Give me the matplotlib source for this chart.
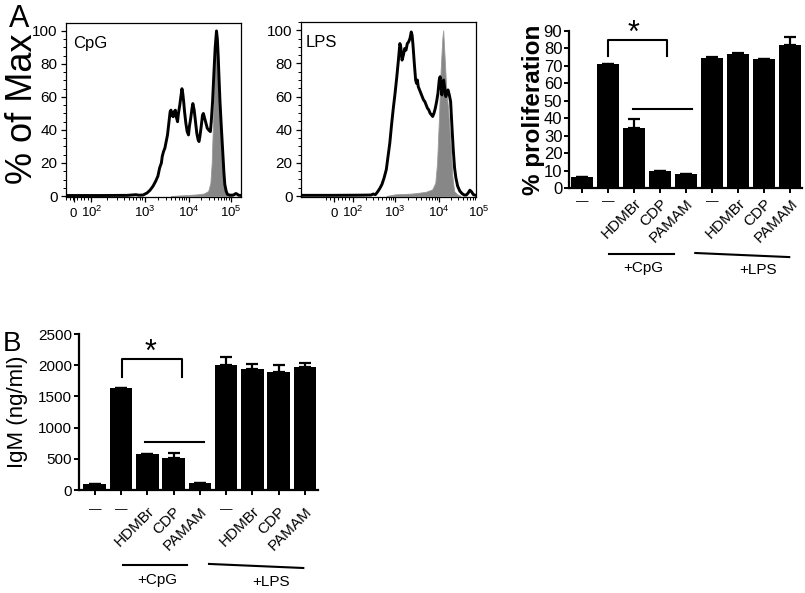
"""Proliferation histograms and bar charts for CpG / LPS stimulated B cells."""

import matplotlib

matplotlib.use("Agg")
import matplotlib.pyplot as plt
import numpy as np
from matplotlib.ticker import FixedLocator, MultipleLocator

# ---- histogram data (x in display decades, y in % of max) ----
CPG_X = [1.20, 2.00, 2.60, 2.80, 2.86, 2.96, 3.05, 3.12, 3.19, 3.25, 3.30, 3.34, 3.38, 3.40,
         3.43, 3.46, 3.49, 3.52, 3.55, 3.58, 3.60, 3.62, 3.65, 3.67, 3.70, 3.72, 3.75, 3.77,
         3.80, 3.83, 3.85, 3.87, 3.89, 3.91, 3.94, 3.97, 4.00, 4.02, 4.05, 4.08, 4.10, 4.13,
         4.16, 4.19, 4.22, 4.24, 4.26, 4.29, 4.32, 4.34, 4.37, 4.40, 4.43, 4.46, 4.50, 4.52,
         4.55, 4.58, 4.61, 4.64, 4.66, 4.68, 4.70, 4.72, 4.75, 4.78, 4.81, 4.83, 4.86, 4.89,
         4.95, 5.03, 5.08, 5.11, 5.14, 5.18]
CPG_Y = [0.3, 0.3, 0.4, 0.8, 0.5, 0.6, 1.8, 3.5, 6, 9, 12, 17, 20, 24,
         27, 29, 33, 37, 44, 51, 52, 49, 48, 51, 52, 48, 45, 50,
         55, 61, 65, 62, 57, 51, 44, 39, 37, 42, 47, 53, 56, 52,
         45, 38, 34, 33, 36, 42, 49, 50, 47, 44, 41, 40, 39, 45,
         57, 74, 90, 100, 95, 84, 70, 57, 42, 28, 14, 7, 3, 1,
         0.5, 0.6, 1.5, 1.2, 0.5, 0.4]
CPG_CTRL_X = [3.60, 3.90, 4.20, 4.35, 4.45, 4.50, 4.53, 4.56, 4.59, 4.62, 4.64, 4.67, 4.70,
              4.74, 4.78, 4.82, 4.86, 4.92, 5.00]
CPG_CTRL_Y = [0, 0.5, 1, 1.5, 3, 8, 20, 45, 75, 95, 100, 88, 65, 40, 20, 7, 2, 0.5, 0]

LPS_X = [0.85, 1.50, 2.20, 2.45, 2.50, 2.55, 2.60, 2.65, 2.70, 2.75, 2.80, 2.84, 2.88, 2.92,
         2.96, 3.00, 3.04, 3.08, 3.11, 3.13, 3.16, 3.19, 3.22, 3.25, 3.28, 3.31, 3.34, 3.37,
         3.39, 3.41, 3.44, 3.47, 3.49, 3.51, 3.53, 3.56, 3.59, 3.62, 3.65, 3.68, 3.71, 3.74,
         3.77, 3.80, 3.83, 3.86, 3.89, 3.92, 3.95, 3.98, 4.01, 4.03, 4.05, 4.07, 4.09, 4.11,
         4.13, 4.16, 4.18, 4.21, 4.24, 4.27, 4.30, 4.33, 4.36, 4.39, 4.43, 4.48, 4.53, 4.58,
         4.63, 4.67, 4.71, 4.75, 4.79, 4.85]
LPS_Y = [0.4, 0.4, 0.5, 0.6, 1.2, 0.8, 2.5, 4.5, 7, 11, 16, 24, 32, 43,
         53, 62, 72, 83, 92, 90, 82, 85, 89, 88, 92, 93, 95, 99,
         97, 91, 80, 70, 68, 70, 66, 64, 62, 60, 58, 57, 55, 53,
         52, 50, 49, 48, 50, 53, 57, 62, 70, 72, 66, 61, 65, 70,
         66, 60, 62, 64, 61, 57, 42, 28, 17, 11, 6, 3, 1.5, 0.6,
         0.6, 1.8, 3.5, 2.5, 0.8, 0.4]
LPS_CTRL_X = [2.80, 3.00, 3.40, 3.70, 3.85, 3.92, 3.96, 4.00, 4.04, 4.08, 4.10, 4.13, 4.17,
              4.22, 4.27, 4.31, 4.35, 4.42, 4.50]
LPS_CTRL_Y = [0, 1, 1.5, 2.5, 4, 8, 20, 45, 75, 95, 100, 85, 65, 50, 30, 12, 3, 1, 0]

CPG_TICKS = [1.38, 1.78, 3.0, 4.0, 4.96]
LPS_TICKS = [1.61, 2.04, 3.0, 4.0, 4.92]
HIST_TICK_LABELS = ["$0$", "$10^2$", "$10^3$", "$10^4$", "$10^5$"]

# ---- bar data ----
BAR_LABELS = ["\u2014", "\u2014", "HDMBr", "CDP", "PAMAM", "\u2014", "HDMBr", "CDP", "PAMAM"]
PROLIF = [6.5, 71, 34.5, 10, 8, 74.3, 77, 74.1, 82]
PROLIF_ERR = [0, 0.3, 5, 0, 0, 0.6, 0.5, 0, 4.4]
IGM = [100, 1640, 580, 515, 110, 2010, 1935, 1895, 1970]
IGM_ERR = [0, 0, 0, 75, 0, 125, 80, 115, 65]

FS = 11


def configure():
    plt.rcParams.update({
        "font.family": ["Liberation Sans", "DejaVu Sans"],
        "font.size": FS,
        "mathtext.fontset": "custom",
        "mathtext.rm": "Liberation Sans",
        "mathtext.it": "Liberation Sans:italic",
        "mathtext.bf": "Liberation Sans:bold",
        "axes.linewidth": 1.0,
        "xtick.direction": "out",
        "ytick.direction": "out",
    })


def minor_positions(zero_pos, hundred_pos, top_pos):
    pos = list(np.linspace(zero_pos - 0.18, hundred_pos, 8))
    span = 3.0 - hundred_pos
    for k in range(2, 10):
        pos.append(hundred_pos + span * np.log10(k))
        pos.append(3.0 + np.log10(k))
        pos.append(4.0 + (top_pos - 4.0) * np.log10(k))
    return pos


def histogram(ax, x, y, cx, cy, ticks, xlim, ylim, name, name_x):
    ax.fill_between(cx, cy, color="#878787", linewidth=0.6, edgecolor="#9a9a9a", zorder=1)
    ax.plot(x, y, color="black", linewidth=2.1, zorder=2, solid_joinstyle="round")
    ax.set_xlim(*xlim)
    ax.set_ylim(*ylim)
    visible = [(t, l) for t, l in zip(ticks, HIST_TICK_LABELS) if xlim[0] <= t <= xlim[1]]
    ax.set_xticks([t for t, _ in visible])
    ax.set_xticklabels([l for _, l in visible], fontsize=9.5, va="baseline")
    for t, l in zip(ticks, HIST_TICK_LABELS):
        if t > xlim[1]:
            ax.annotate(l, xy=(t, 0), xycoords=("data", "axes fraction"),
                        xytext=(0, -14.3), textcoords="offset points",
                        ha="center", va="baseline", fontsize=9.5, annotation_clip=False)
    ax.xaxis.set_minor_locator(FixedLocator(minor_positions(ticks[0], ticks[1], ticks[4])))
    ax.set_yticks([0, 20, 40, 60, 80, 100])
    ax.yaxis.set_minor_locator(MultipleLocator(5))
    ax.tick_params(which="major", length=3.5, width=0.9)
    ax.tick_params(axis="x", which="major", pad=10.8)
    ax.tick_params(axis="y", which="major", pad=2.5)
    ax.tick_params(which="minor", length=2.0, width=0.7)
    for s in ax.spines.values():
        s.set_linewidth(0.9)
    ax.text(name_x, 0.885, name, transform=ax.transAxes, fontsize=12, ha="left", va="center")


def bars(ax, vals, errs, ymax, ystep, pad, ylab_fs, bracket, star_x, star_y, line_y, groups):
    x = np.arange(len(vals))
    ax.bar(x, vals, width=0.86, color="black", zorder=2)
    ax.errorbar(x, vals, yerr=[np.zeros(len(errs)), errs], fmt="none", ecolor="black",
                elinewidth=1.6, capsize=4, capthick=1.6, zorder=3)
    ax.set_ylim(0, ymax)
    ax.set_yticks(np.arange(0, ymax + 1, ystep))
    ax.set_xticks(x)
    ax.set_xticklabels(BAR_LABELS)
    for lab in ax.get_xticklabels():
        if lab.get_text() == "\u2014":
            lab.set_rotation(0)
            lab.set_ha("center")
            lab.set_fontsize(9)
        else:
            lab.set_rotation(45)
            lab.set_ha("right")
            lab.set_va("top")
            lab.set_rotation_mode("anchor")
            lab.set_fontsize(FS)
    ax.spines["top"].set_visible(False)
    ax.spines["right"].set_visible(False)
    for s in ("left", "bottom"):
        ax.spines[s].set_linewidth(1.6)
    ax.tick_params(axis="both", length=3.3, width=1.4)
    ax.tick_params(axis="y", pad=1.5, labelsize=ylab_fs)
    ax.tick_params(axis="x", pad=pad)

    # significance bracket
    x0, x1, ylo, yhi = bracket
    ax.plot([x0, x0, x1, x1], [ylo, yhi, yhi, ylo], color="black", lw=1.5, clip_on=False)
    ax.text(star_x, star_y, "*", ha="center", va="center", fontsize=22, clip_on=False)
    ax.plot(line_y[:2], [line_y[2]] * 2, color="black", lw=1.5, clip_on=False)

    tr = ax.get_xaxis_transform()
    for (xa, xb, ya, yb, tx, ty, txt) in groups:
        ax.plot([xa, xb], [ya, yb], color="black", lw=1.5, transform=tr, clip_on=False)
        ax.text(tx, ty, txt, transform=tr, ha="center", va="center", fontsize=FS)


def main():
    configure()
    fig = plt.figure(figsize=(8.05, 5.93), dpi=100)
    W, H = 805.0, 593.0

    def box(l, r, t, b):
        return [l / W, 1 - b / H, (r - l) / W, (b - t) / H]

    ax1 = fig.add_axes(box(66, 241, 23, 197))
    ax2 = fig.add_axes(box(301, 476, 22, 197))
    ax3 = fig.add_axes(box(569, 802, 31, 188))
    ax4 = fig.add_axes(box(79, 318, 334, 490))

    histogram(ax1, CPG_X, CPG_Y, CPG_CTRL_X, CPG_CTRL_Y, CPG_TICKS, (1.2, 5.2), (-0.6, 104.8),
              "CpG", 0.04)
    histogram(ax2, LPS_X, LPS_Y, LPS_CTRL_X, LPS_CTRL_Y, LPS_TICKS, (0.85, 4.85), (-0.6, 105),
              "LPS", 0.025)

    bars(ax3, PROLIF, PROLIF_ERR, 90, 10, 2.5, 12,
         bracket=(1.0, 3.25, 75.7, 84.9), star_x=1.97, star_y=88.5, line_y=(1.97, 4.24, 45.2),
         groups=[(1.04, 3.54, -0.42, -0.42, 2.35, -0.51, "+CpG"),
                 (4.35, 7.96, -0.414, -0.44, 6.77, -0.52, "+LPS")])
    ax3.set_xlim(-0.5, 8.45)
    ax3.set_ylabel("% proliferation", fontsize=17.5, fontweight="bold")
    ax3.yaxis.set_label_coords(-0.103, 0.5)

    bars(ax4, IGM, IGM_ERR, 2500, 500, 7, FS,
         bracket=(1.02, 3.31, 1816, 2094), star_x=2.13, star_y=2200, line_y=(1.91, 4.16, 774),
         groups=[(1.07, 3.51, -0.48, -0.48, 2.37, -0.577, "+CpG"),
                 (4.35, 7.94, -0.474, -0.50, 6.72, -0.59, "+LPS")])
    ax4.set_xlim(-0.6, 8.5)
    ax4.set_ylabel("IgM (ng/ml)", fontsize=16)
    ax4.yaxis.set_label_coords(-(79 - 28) / 239.0, 0.5)

    fig.text(23 / W, 1 - 109 / H, "% of Max", rotation=90, ha="center", va="center", fontsize=26)
    fig.text(9 / W, 1 - 4 / H, "A", ha="left", va="top", fontsize=22)
    fig.text(3 / W, 1 - 331 / H, "B", ha="left", va="top", fontsize=20)

    fig.savefig("out.png", dpi=100)
    plt.close(fig)


if __name__ == "__main__":
    main()
